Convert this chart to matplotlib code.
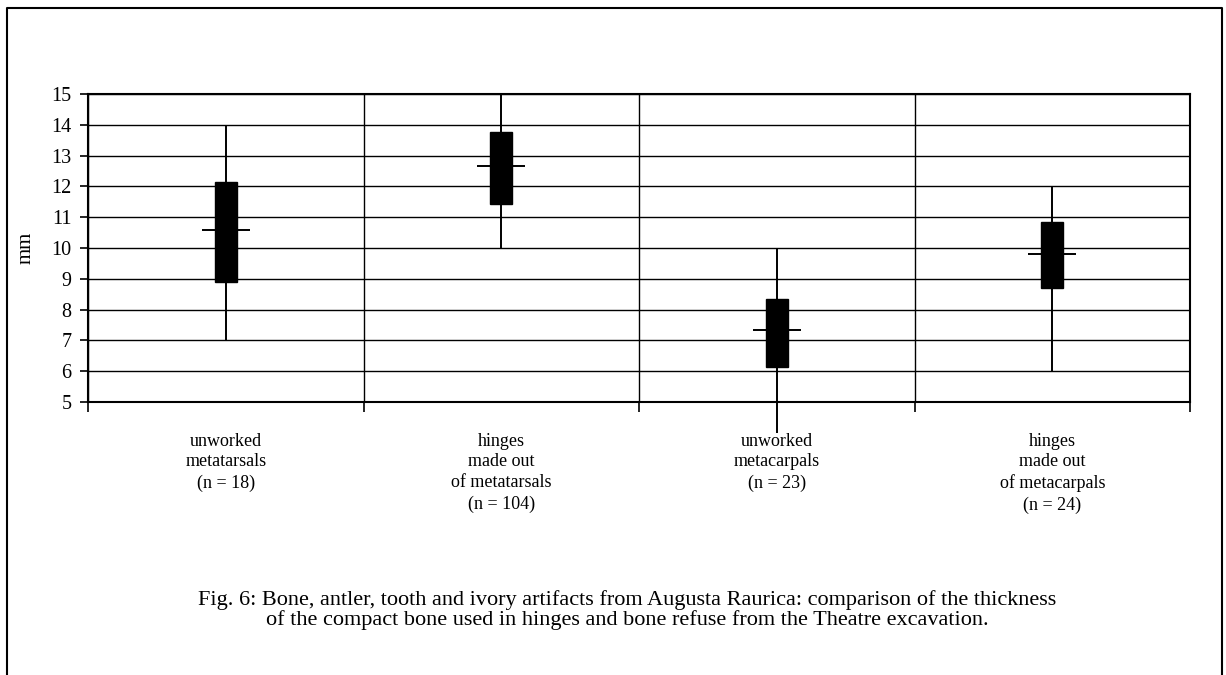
import numpy as np
import matplotlib
matplotlib.use('Agg')
import matplotlib.pyplot as plt
from matplotlib.lines import Line2D

# data (mm)
categories = ['unworked\nmetatarsals\n(n = 18)',
              'hinges\nmade out\nof metatarsals\n(n = 104)',
              'unworked\nmetacarpals\n(n = 23)',
              'hinges\nmade out\nof metacarpals\n(n = 24)']
whisker_lo = [7.0, 10.0, 4.0, 6.0]
whisker_hi = [14.0, 15.0, 10.0, 12.0]
box_lo = [8.9, 11.42, 6.15, 8.71]
box_hi = [12.13, 13.78, 8.35, 10.85]
medians = [10.6, 12.66, 7.35, 9.82]

caption = ('Fig. 6: Bone, antler, tooth and ivory artifacts from Augusta Raurica: comparison of the thickness\n'
           'of the compact bone used in hinges and bone refuse from the Theatre excavation.')

plt.rcParams['font.family'] = ['Liberation Serif', 'DejaVu Serif']
plt.rcParams['font.size'] = 12.5

fig = plt.figure(figsize=(12.26, 6.75), dpi=100)
ax = fig.add_axes([88/1226, 1 - 402/675, (1190-88)/1226, (402-94)/675])

x = np.arange(len(categories)) + 0.5

# grid
ax.set_xlim(0, 4)
ax.set_ylim(5, 15)
ax.set_yticks(np.arange(5, 16, 1))
ax.set_xticks(np.arange(0, 5, 1))
ax.set_xticklabels([])
ax.set_xticks(x, minor=True)
ax.set_xticklabels(categories, minor=True, linespacing=1.3, va='top')
ax.tick_params(axis='x', which='major', length=7, width=1.2, direction='out', color='black')
ax.tick_params(axis='x', which='minor', length=0, pad=22, labelsize=13)
ax.tick_params(axis='y', length=6, width=1.2, direction='out', pad=6, labelsize=14.5)
ax.grid(True, which='major', color='black', linewidth=1.0)
ax.set_axisbelow(True)
for s in ax.spines.values():
    s.set_linewidth(1.5)
    s.set_color('black')

# whiskers, boxes, medians
ax.vlines(x, whisker_lo, whisker_hi, color='black', linewidth=1.4, clip_on=False, zorder=3)
ax.bar(x, np.array(box_hi) - np.array(box_lo), bottom=box_lo, width=0.08,
       color='black', edgecolor='black', zorder=4)
ax.hlines(medians, x - 0.088, x + 0.088, color='black', linewidth=1.4, zorder=5)

ax.set_ylabel('mm', fontsize=15)
ax.yaxis.set_label_coords(-0.048, 0.5)

fig.text(627/1226, 1 - 610/675, caption, ha='center', va='center',
         fontsize=16, linespacing=0.95)

# outer frame (left, top, right)
fl, fr, ft = 7/1226, 1222/1226, 1 - 8/675
fig.add_artist(Line2D([fl, fl, fr, fr], [0, ft, ft, 0], transform=fig.transFigure,
                      color='black', linewidth=1.5))

fig.savefig('out.png', dpi=100)
